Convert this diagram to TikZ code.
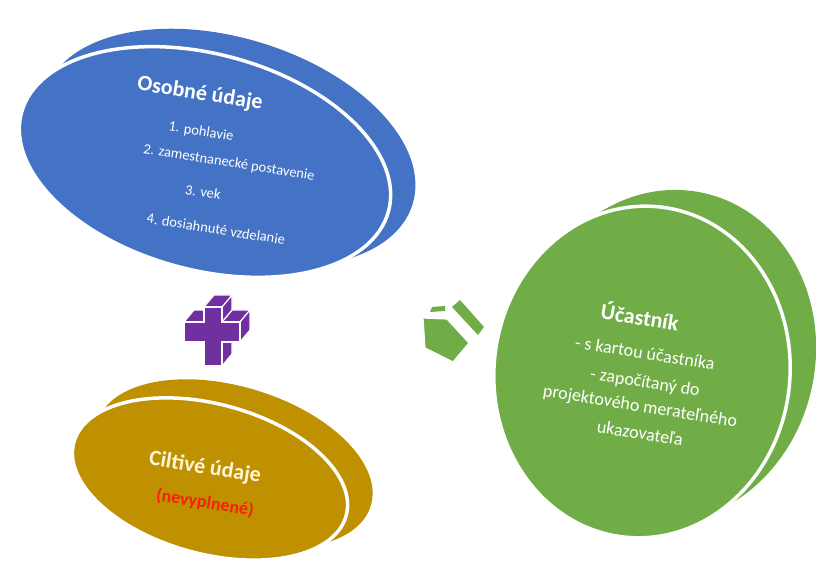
\documentclass[tikz,border=0pt]{standalone}
\usepackage{fontspec}
\setmainfont{Carlito}
\definecolor{cblue}{HTML}{4472C4}
\definecolor{cgold}{HTML}{BF9000}
\definecolor{cgreen}{HTML}{70AD47}
\definecolor{cpurple}{HTML}{7030A0}
\definecolor{cred}{HTML}{F8200A}
\definecolor{cpale}{HTML}{FFF6D8}
\begin{document}
\begin{tikzpicture}[x=1pt,y=1pt,
  frontdisk/.style={draw=white,line width=3.5pt},
  txt/.style={text=white,inner sep=0pt,rotate=-9},
  ttl/.style={txt,font=\bfseries\fontsize{22}{26}\selectfont},
  bodyb/.style={txt,font=\fontsize{14.5}{17}\selectfont},
  bodyg/.style={txt,font=\fontsize{18}{21}\selectfont},
  solid3d/.style={fill=#1,draw=white,line width=1.2pt,line join=miter}]
\useasboundingbox (0,0) rectangle (816,562);
% blue
\fill[cblue] (229,414) ellipse[x radius=192,y radius=110,rotate=-17];
\filldraw[frontdisk,fill=cblue] (205,400) ellipse[x radius=190,y radius=108,rotate=-15];
\node[ttl] (bt) at (200,468) {Osobné údaje};
\node[bodyb] (b1) at (201,430) {1. pohlavie};
\node[bodyb] (b2) at (229,399) {2. zamestnanecké postavenie};
\node[bodyb] (b3) at (203,370) {3. vek};
\node[bodyb] (b4) at (216,333) {4. dosiahnuté vzdelanie};
% gold
\fill[cgold] (234,98) ellipse[x radius=143,y radius=77,rotate=-17];
\filldraw[frontdisk,fill=cgold] (210,83) ellipse[x radius=141,y radius=75,rotate=-15];
\node[ttl,text=cpale] (gt) at (205,94) {Ciltivé údaje};
\node[txt,text=cred,font=\bfseries\fontsize{18}{21}\selectfont] (g1) at (205,59) {(nevyplnené)};
% green
\fill[cgreen] (667,205) ellipse[x radius=148,y radius=168,rotate=-13];
\filldraw[frontdisk,fill=cgreen] (642,190) ellipse[x radius=148,y radius=166,rotate=-6];
\node[ttl] (et) at (640,246) {Účastník};
\node[bodyg] (e1) at (645,209) {- s kartou účastníka};
\node[bodyg] (e2) at (645,179) {- započítaný do};
\node[bodyg] (e3) at (640,155) {projektového merateľného};
\node[bodyg] (e4) at (640,129) {ukazovateľa};
% plus (3D)
\filldraw[solid3d=cpurple] (222,240) -- (240,240) -- (250,252) -- (232,252) -- cycle;
\filldraw[solid3d=cpurple] (240,240) -- (240,220) -- (250,232) -- (250,252) -- cycle;
\filldraw[solid3d=cpurple] (222,220) -- (222,196) -- (232,208) -- (232,232) -- cycle;
\filldraw[solid3d=cpurple] (184,240) -- (204,240) -- (214,252) -- (194,252) -- cycle;
\filldraw[solid3d=cpurple] (222,255) -- (222,240) -- (232,252) -- (232,267) -- cycle;
\filldraw[solid3d=cpurple] (204,255) -- (222,255) -- (232,267) -- (214,267) -- cycle;
\filldraw[solid3d=cpurple] (204,255) -- (222,255) -- (222,240) -- (240,240) -- (240,220) -- (222,220) -- (222,196) -- (204,196) -- (204,220) -- (184,220) -- (184,240) -- (204,240) -- cycle;
\coordinate (plus) at (212,228);
% arrow (3D)
\fill[cgreen] (430,250) -- (432,255) -- (445,256) -- (445,251) -- cycle;
\fill[cgreen] (452,255) -- (460,262) -- (484,235) -- (478,227) -- cycle;
\filldraw[solid3d=cgreen] (423,244) -- (447,243) -- (469,219) -- (453,200) -- (425,214) -- cycle;
\coordinate (arr) at (446,226);
\end{tikzpicture}
\end{document}
